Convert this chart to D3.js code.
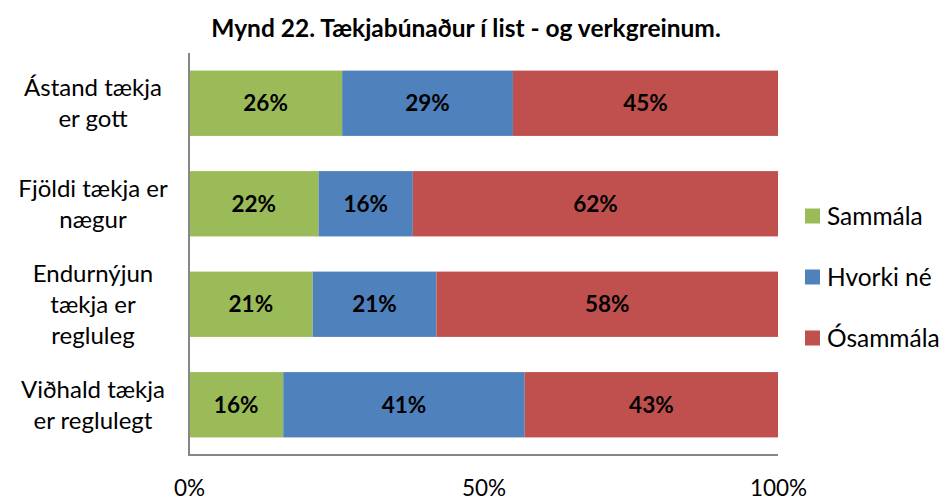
<!DOCTYPE html>
<html><head><meta charset="utf-8">
<script src="https://cdn.jsdelivr.net/npm/d3@7"></script>
<style>body{margin:0;background:#fff}svg{display:block}text{font-family:Lato,"Open Sans",sans-serif}</style>
</head><body>
<svg id="c" width="942" height="502"></svg>
<script>
const title = "Mynd 22. Tækjabúnaður í list - og verkgreinum.";
const categories = [["Ástand tækja","er gott"],["Fjöldi tækja er","nægur"],["Endurnýjun","tækja er","regluleg"],["Viðhald tækja","er reglulegt"]];
const seriesNames = ["Sammála","Hvorki né","Ósammála"];
const sammala = [26,22,21,16];
const hvorki = [29,16,21,41];
const osammala = [45,62,58,43];
const colors = ["#9BBB59","#4F81BD","#C0504D"];
const tickValues = [0,50,100];

const svg = d3.select("#c");
const x = d3.scaleLinear().domain([0,100]).range([189,778]);
const y = d3.scaleBand().domain(d3.range(categories.length)).range([53,455]).paddingInner(0.35).paddingOuter(0.175);

svg.append("text").attr("x",466).attr("y",37).attr("text-anchor","middle")
  .attr("font-weight","bold").attr("font-size",24.5).text(title);

const data = categories.map((c,i)=>({i, vals:[sammala[i],hvorki[i],osammala[i]]}));
data.forEach(d=>{
  let acc=0;
  d.vals.forEach((v,k)=>{
    const x0=x(acc), x1=x(acc+v);
    svg.append("rect").attr("x",x0).attr("y",y(d.i)).attr("width",x1-x0).attr("height",y.bandwidth()).attr("fill",colors[k]);
    svg.append("text").attr("x",(x0+x1)/2).attr("y",y(d.i)+y.bandwidth()/2).attr("dy","0.35em")
      .attr("text-anchor","middle").attr("font-weight","bold").attr("font-size",22.5).attr("fill","#000").text(v+"%");
    acc+=v;
  });
});

// axes lines
svg.append("line").attr("x1",189).attr("x2",189).attr("y1",53).attr("y2",455).attr("stroke","#868686").attr("stroke-width",2);
svg.append("line").attr("x1",188).attr("x2",778).attr("y1",455).attr("y2",455).attr("stroke","#868686").attr("stroke-width",2);

const xAxis = d3.axisBottom(x).tickValues(tickValues).tickFormat(d=>d+"%").tickSize(0).tickPadding(0);
const gx = svg.append("g").attr("transform","translate(0,480)").call(xAxis);
gx.select(".domain").remove();
gx.selectAll("text").attr("font-size",22.5).attr("font-family","Lato,'Open Sans',sans-serif").attr("fill","#000");

// category labels
categories.forEach((lines,i)=>{
  const cy = y(i)+y.bandwidth()/2;
  const lh = 31;
  const t = svg.append("text").attr("text-anchor","middle").attr("font-size",24).attr("fill","#000");
  lines.forEach((l,j)=>{
    t.append("tspan").attr("x",93).attr("y",cy+(j-(lines.length-1)/2)*lh).attr("dy","0.35em").text(l);
  });
});

// legend
seriesNames.forEach((n,k)=>{
  const ly = 216 + k*61;
  svg.append("rect").attr("x",805).attr("y",ly-7.5).attr("width",15).attr("height",15).attr("fill",colors[k]);
  svg.append("text").attr("x",827).attr("y",ly).attr("dy","0.35em").attr("font-size",24.5).attr("fill","#000").text(n);
});
</script>
</body></html>
